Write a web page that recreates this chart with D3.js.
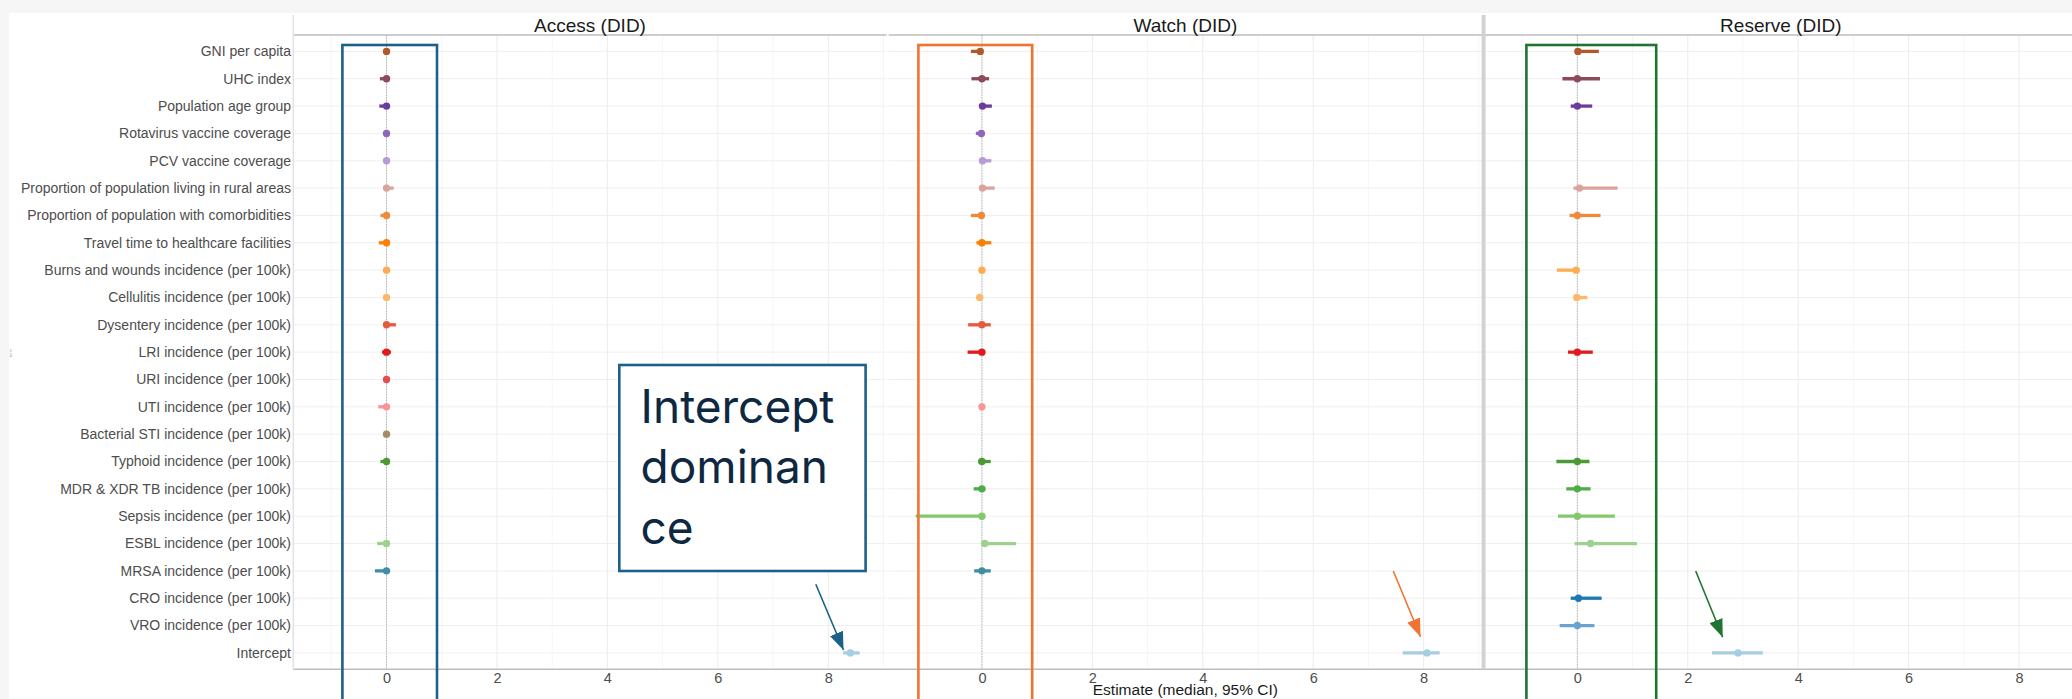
<!DOCTYPE html>
<html>
<head>
<meta charset="utf-8">
<script src="https://cdn.jsdelivr.net/npm/d3@7"></script>
<style>
  html, body { margin: 0; padding: 0; background: #f6f6f6; }
  svg { display: block; }
</style>
</head>
<body>
<svg id="chart" width="2072" height="699"></svg>
<script>
// ---------------- DATA ----------------
const categories = [
  "GNI per capita", "UHC index", "Population age group", "Rotavirus vaccine coverage",
  "PCV vaccine coverage", "Proportion of population living in rural areas",
  "Proportion of population with comorbidities", "Travel time to healthcare facilities",
  "Burns and wounds incidence (per 100k)", "Cellulitis incidence (per 100k)",
  "Dysentery incidence (per 100k)", "LRI incidence (per 100k)", "URI incidence (per 100k)",
  "UTI incidence (per 100k)", "Bacterial STI incidence (per 100k)", "Typhoid incidence (per 100k)",
  "MDR & XDR TB incidence (per 100k)", "Sepsis incidence (per 100k)", "ESBL incidence (per 100k)",
  "MRSA incidence (per 100k)", "CRO incidence (per 100k)", "VRO incidence (per 100k)", "Intercept"
];
const categoryColors = [
  "#b15928", "#8e4a5a", "#6a3d9a", "#8f66ba", "#b59bd5", "#d9a49b",
  "#f08a3a", "#ff7f00", "#fdac52", "#fcb76c", "#e9593d", "#e31a1c", "#e84a50",
  "#f99497", "#a68b63", "#4a9a35", "#4dae45", "#84c86c", "#9dd18e",
  "#3e8fa3", "#1f78b4", "#6ba3d0", "#a6cee3"
];
const panelTitles = ["Access (DID)", "Watch (DID)", "Reserve (DID)"];
const xTickValues = [0, 2, 4, 6, 8];
const xMinorValues = [-1, 1, 3, 5, 7, 9];

// Access
const accessEst = [0, 0, 0, 0, 0, 0, 0, 0, 0, 0, 0, 0, 0, 0, 0, 0, null, null, 0, 0, null, null, 8.40];
const accessLo  = [-0.02, -0.12, -0.13, -0.02, -0.01, -0.01, -0.11, -0.14, -0.01, -0.01, -0.02, -0.08, -0.02, -0.15, -0.01, -0.11, null, null, -0.17, -0.21, null, null, 8.27];
const accessHi  = [0.02, 0.01, 0.01, 0.02, 0.01, 0.13, 0.01, 0.01, 0.01, 0.01, 0.17, 0.08, 0.02, 0.01, 0.01, 0.01, null, null, 0.01, 0.01, null, null, 8.57];
// Watch
const watchEst = [-0.03, 0, 0.01, -0.01, 0.01, 0.01, -0.01, 0, 0, -0.04, 0, 0, null, 0, null, 0, 0, 0, 0.05, 0, null, null, 8.06];
const watchLo  = [-0.20, -0.19, -0.01, -0.11, 0, -0.02, -0.20, -0.10, -0.02, -0.05, -0.25, -0.26, null, -0.02, null, -0.07, -0.15, -1.20, 0, -0.14, null, null, 7.62];
const watchHi  = [0.01, 0.13, 0.18, 0.02, 0.17, 0.23, 0.02, 0.17, 0.02, 0, 0.16, 0.01, null, 0.02, null, 0.16, 0.06, 0.02, 0.62, 0.16, null, null, 8.29];
// Reserve
const reserveEst = [0.01, 0, 0, null, null, 0.04, 0, null, -0.02, -0.01, null, 0, null, null, null, 0, 0, 0, 0.24, null, 0.02, 0, 2.91];
const reserveLo  = [0, -0.27, -0.12, null, null, -0.07, -0.14, null, -0.37, -0.03, null, -0.17, null, null, null, -0.38, -0.20, -0.35, -0.05, null, -0.12, -0.32, 2.44];
const reserveHi  = [0.39, 0.41, 0.27, null, null, 0.73, 0.42, null, 0.02, 0.18, null, 0.28, null, null, null, 0.22, 0.24, 0.68, 1.08, null, 0.44, 0.31, 3.36];

const panelData = [
  { est: accessEst, lo: accessLo, hi: accessHi },
  { est: watchEst, lo: watchLo, hi: watchHi },
  { est: reserveEst, lo: reserveLo, hi: reserveHi }
];

// ---------------- LAYOUT ----------------
const W = 2072, H = 699;
const svg = d3.select("#chart");
const font = "'Liberation Sans', Arial, Helvetica, sans-serif";

svg.append("rect").attr("x", 9).attr("y", 13).attr("width", W - 9).attr("height", H - 13).attr("fill", "#ffffff");

const panelTop = 35, panelBottom = 669.3;
const panelLeft0 = 293.3, panelW = 593.4, panelGap = 2;
const panelLefts = [0, 1, 2].map(i => panelLeft0 + i * (panelW + panelGap));

// shared x domain (ggplot style 5% expansion of data range)
let allVals = [];
panelData.forEach(p => { p.lo.forEach(v => v != null && allVals.push(v)); p.hi.forEach(v => v != null && allVals.push(v)); });
const [dMin, dMax] = d3.extent(allVals);
const pad = (dMax - dMin) * 0.05;
const xDomain = [dMin - pad, dMax + pad];

const y = d3.scalePoint().domain(categories).range([panelTop, panelBottom]).padding(0.6);

// y labels
svg.append("g").selectAll("text").data(categories).join("text")
  .attr("x", 291).attr("y", d => y(d)).attr("dy", "0.35em")
  .attr("text-anchor", "end").attr("font-family", font).attr("font-size", 14)
  .attr("fill", "#4d4d4d").text(d => d);

// tiny y-axis title
svg.append("text").attr("transform", "translate(12,353) rotate(-90)")
  .attr("text-anchor", "middle").attr("font-family", font).attr("font-size", 4)
  .attr("fill", "#999").text("term");

panelLefts.forEach((left, pi) => {
  const x = d3.scaleLinear().domain(xDomain).range([left, left + panelW]);
  const g = svg.append("g");
  const d = panelData[pi];

  // minor vertical grid
  g.append("g").selectAll("line").data(xMinorValues.filter(v => v >= xDomain[0] && v <= xDomain[1])).join("line")
    .attr("x1", v => x(v)).attr("x2", v => x(v)).attr("y1", panelTop).attr("y2", panelBottom)
    .attr("stroke", "#f4f4f4").attr("stroke-width", 0.8);
  // major vertical grid
  g.append("g").selectAll("line").data(xTickValues).join("line")
    .attr("x1", v => x(v)).attr("x2", v => x(v)).attr("y1", panelTop).attr("y2", panelBottom)
    .attr("stroke", "#ececec").attr("stroke-width", 1);
  // horizontal grid
  g.append("g").selectAll("line").data(categories).join("line")
    .attr("x1", left).attr("x2", left + panelW).attr("y1", c => y(c)).attr("y2", c => y(c))
    .attr("stroke", "#efefef").attr("stroke-width", 1);
  // zero reference dotted line
  g.append("line").attr("x1", x(0)).attr("x2", x(0)).attr("y1", panelTop).attr("y2", panelBottom)
    .attr("stroke", "#a8a8a8").attr("stroke-width", 0.8).attr("stroke-dasharray", "1.5,1.2");

  // strip
  g.append("line").attr("x1", left).attr("x2", left + panelW).attr("y1", panelTop).attr("y2", panelTop)
    .attr("stroke", "#9c9c9c").attr("stroke-width", 1.2);
  g.append("text").attr("x", left + panelW / 2).attr("y", 32.3).attr("text-anchor", "middle")
    .attr("font-family", font).attr("font-size", 19).attr("fill", "#1a1a1a").text(panelTitles[pi]);

  // x axis
  const axis = d3.axisBottom(x).tickValues(xTickValues).tickSize(0).tickPadding(3).tickFormat(d3.format("d"));
  const ag = g.append("g").attr("transform", `translate(0,${panelBottom})`).call(axis);
  ag.select(".domain").remove();
  ag.selectAll("text").attr("font-family", font).attr("font-size", 14.5).attr("fill", "#4d4d4d").attr("dy", "0.71em");

  // rows
  const rows = categories.map((c, i) => ({ c, i, est: d.est[i], lo: d.lo[i], hi: d.hi[i] })).filter(r => r.est != null);
  g.append("g").selectAll("line").data(rows).join("line")
    .attr("x1", r => x(r.lo)).attr("x2", r => x(r.hi)).attr("y1", r => y(r.c)).attr("y2", r => y(r.c))
    .attr("stroke", r => categoryColors[r.i]).attr("stroke-width", 3.3);
  g.append("g").selectAll("circle").data(rows).join("circle")
    .attr("cx", r => x(r.est)).attr("cy", r => y(r.c)).attr("r", 3.7)
    .attr("fill", r => categoryColors[r.i]);
});

// bottom axis line & left border & separator
svg.append("line").attr("x1", panelLeft0).attr("x2", W).attr("y1", panelBottom).attr("y2", panelBottom)
  .attr("stroke", "#bdbdbd").attr("stroke-width", 1.5);
svg.append("line").attr("x1", panelLeft0).attr("x2", panelLeft0).attr("y1", 15).attr("y2", panelBottom)
  .attr("stroke", "#e2e2e2").attr("stroke-width", 1.5);
svg.append("line").attr("x1", 1483.6).attr("x2", 1483.6).attr("y1", 15).attr("y2", panelBottom)
  .attr("stroke", "#d2d2d2").attr("stroke-width", 4);

// x-axis title
svg.append("text").attr("x", (panelLeft0 + panelLefts[2] + panelW) / 2).attr("y", 695)
  .attr("text-anchor", "middle").attr("font-family", font).attr("font-size", 15.5)
  .attr("fill", "#1a1a1a").text("Estimate (median, 95% CI)");

// ---------------- ANNOTATIONS ----------------
const blue = "#1b6189", orange = "#ef7333", green = "#1f7530";
const boxes = [
  { x0: 342.4, x1: 437, c: blue },
  { x0: 918.4, x1: 1032.2, c: orange },
  { x0: 1526.4, x1: 1656.2, c: green }
];
svg.append("g").selectAll("rect").data(boxes).join("rect")
  .attr("x", b => b.x0).attr("y", 45).attr("width", b => b.x1 - b.x0).attr("height", 700)
  .attr("fill", "none").attr("stroke", b => b.c).attr("stroke-width", 2.6);

// arrows
const defs = svg.append("defs");
[["ab", blue], ["ao", orange], ["ag", green]].forEach(([id, c]) => {
  defs.append("marker").attr("id", id).attr("viewBox", "0 0 18 14").attr("refX", 18).attr("refY", 7)
    .attr("markerWidth", 18).attr("markerHeight", 14).attr("markerUnits", "userSpaceOnUse")
    .attr("orient", "auto")
    .append("path").attr("d", "M0,0 L18,7 L0,14 Z").attr("fill", c);
});
const arrows = [
  { x1: 815.8, y1: 584.3, x2: 843.5, y2: 650, c: blue, m: "ab" },
  { x1: 1393.3, y1: 571, x2: 1420.5, y2: 636.7, c: orange, m: "ao" },
  { x1: 1695.7, y1: 571, x2: 1722.7, y2: 637.3, c: green, m: "ag" }
];
arrows.forEach(a => {
  svg.append("line").attr("x1", a.x1).attr("y1", a.y1).attr("x2", a.x2).attr("y2", a.y2)
    .attr("stroke", a.c).attr("stroke-width", 1.6).attr("marker-end", `url(#${a.m})`);
});

// text box
svg.append("rect").attr("x", 619.3).attr("y", 365).attr("width", 246.3).attr("height", 206)
  .attr("fill", "#ffffff").attr("stroke", blue).attr("stroke-width", 2.6);
const boxLines = ["Intercept", "dominan", "ce"];
svg.append("g").selectAll("text").data(boxLines).join("text")
  .attr("x", 640.6).attr("y", (d, i) => 422.7 + i * 60.7)
  .attr("font-family", "Inter, 'Noto Sans', sans-serif").attr("font-size", 46)
  .attr("fill", "#0e2841").text(d => d);
</script>
</body>
</html>
